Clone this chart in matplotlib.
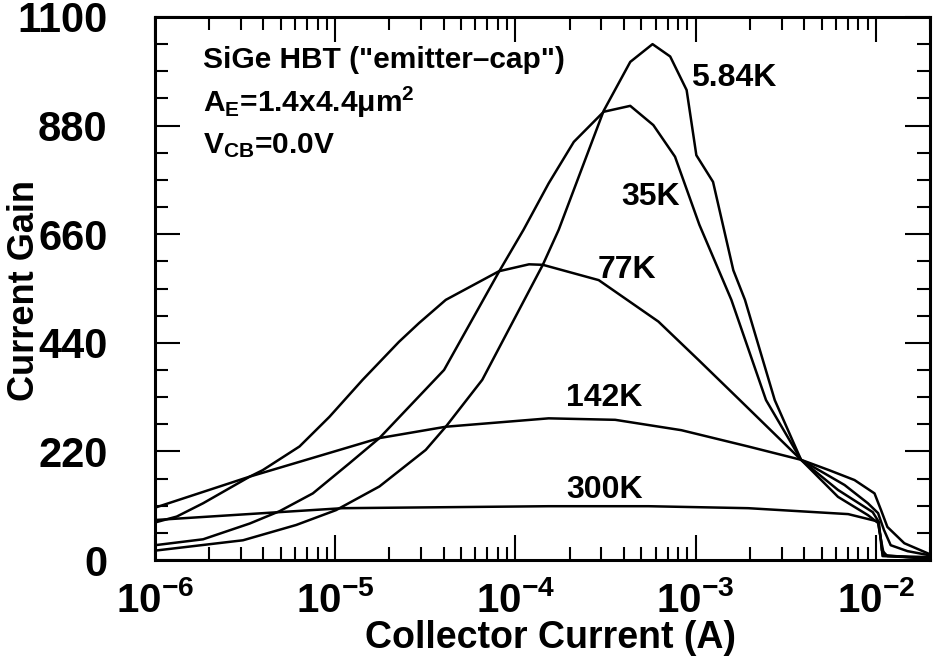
import matplotlib
matplotlib.use("Agg")
from matplotlib import pyplot as plt
from matplotlib.ticker import LogLocator, MultipleLocator, NullFormatter

# collector current (A) and current gain
i_584 = [1.0e-6, 3.08e-6, 6.08e-6, 1.01e-5, 1.76e-5, 3.18e-5, 4.11e-5, 6.55e-5,
         1.42e-4, 1.74e-4, 3.09e-4, 4.34e-4, 5.77e-4, 7.23e-4, 8.92e-4, 1.01e-3,
         1.25e-3, 1.62e-3, 1.88e-3, 2.75e-3, 3.85e-3, 6.17e-3, 9.04e-3, 1.03e-2,
         1.07e-2, 1.09e-2, 1.96e-2]
g_584 = [19, 40, 71, 101, 149, 223, 270, 365,
         598, 669, 910, 1009, 1045, 1020, 952, 820,
         766, 587, 527, 324, 203, 128, 91, 75,
         40, 8, 4]

i_35 = [1.0e-6, 1.85e-6, 3.36e-6, 4.92e-6, 7.52e-6, 1.20e-5, 1.76e-5, 4.02e-5,
        8.11e-5, 1.11e-4, 1.53e-4, 2.11e-4, 3.09e-4, 4.34e-4, 5.83e-4, 7.69e-4,
        1.05e-3, 1.58e-3, 2.46e-3, 3.85e-3, 6.17e-3, 9.62e-3, 1.04e-2, 1.08e-2,
        1.16e-2, 1.96e-2]
g_35 = [30, 42, 74, 99, 135, 196, 247, 385,
        584, 669, 763, 847, 908, 920, 881, 817,
        679, 527, 324, 203, 142, 97, 77, 20,
        8, 6]

i_77 = [1.0e-6, 1.32e-6, 1.85e-6, 3.36e-6, 3.96e-6, 6.34e-6, 9.29e-6, 1.42e-5,
        2.26e-5, 2.92e-5, 4.11e-5, 8.11e-5, 1.19e-4, 1.42e-4, 2.90e-4, 6.22e-4,
        1.04e-3, 1.76e-3, 3.85e-3, 6.71e-3, 9.04e-3, 1.03e-2, 1.11e-2, 1.21e-2,
        1.50e-2, 1.96e-2]
g_77 = [76, 88, 115, 169, 182, 230, 290, 365,
        442, 480, 527, 585, 599, 598, 567, 483,
        405, 324, 203, 152, 115, 95, 61, 30,
        18, 10]

i_142 = [1.0e-6, 3.36e-6, 1.76e-5, 4.11e-5, 1.53e-4, 3.58e-4, 8.34e-4, 1.96e-3,
         3.85e-3, 5.51e-3, 7.62e-3, 9.84e-3, 1.07e-2, 1.16e-2, 1.44e-2, 1.96e-2]
g_142 = [106, 169, 247, 270, 287, 284, 263, 230,
         203, 182, 162, 135, 101, 67, 34, 13]

i_300 = [1.0e-6, 4.43e-6, 1.10e-5, 1.53e-4, 5.48e-4, 1.96e-3, 7.03e-3, 1.03e-2,
         1.07e-2, 1.11e-2, 1.96e-2]
g_300 = [81, 96, 105, 109, 109, 105, 93, 78,
         40, 10, 2]

temps = ["5.84K", "35K", "77K", "142K", "300K"]
label_i = [1.62e-3, 5.62e-4, 4.14e-4, 3.13e-4, 3.13e-4]
label_g = [976, 735, 588, 328, 142]

plt.rcParams["font.family"] = ["Liberation Sans", "DejaVu Sans"]
plt.rcParams["font.weight"] = "bold"
plt.rcParams["mathtext.fontset"] = "custom"
plt.rcParams["mathtext.rm"] = "Liberation Sans:bold"
plt.rcParams["mathtext.it"] = "Liberation Sans:bold"
plt.rcParams["mathtext.bf"] = "Liberation Sans:bold"

fig = plt.figure(figsize=(9.33, 6.69), dpi=100)
ax = fig.add_axes([0.1661, 0.1629, 0.8307, 0.8117])

for xs, ys in [(i_584, g_584), (i_35, g_35), (i_77, g_77), (i_142, g_142), (i_300, g_300)]:
    ax.plot(xs, ys, c="black", lw=1.8)

for t, x, y in zip(temps, label_i, label_g):
    ax.text(x, y, t, ha="center", va="center", fontsize=23, fontweight="bold")

ax.text(0.062, 0.921, 'SiGe HBT ("emitter\u2013cap")', transform=ax.transAxes,
        fontsize=21.5, fontweight="bold", va="center")
ax.text(0.062, 0.842, "A$_\\mathregular{E}$=1.4x4.4\u03bcm$^\\mathregular{2}$",
        transform=ax.transAxes, fontsize=21.5, fontweight="bold", va="center")
ax.text(0.062, 0.764, "V$_\\mathregular{CB}$=0.0V", transform=ax.transAxes,
        fontsize=21.5, fontweight="bold", va="center")

ax.set_xscale("log")
ax.set_xlim(1e-6, 2e-2)
ax.set_ylim(0, 1100)
ax.yaxis.set_major_locator(MultipleLocator(220))
ax.yaxis.set_minor_locator(MultipleLocator(55))
ax.xaxis.set_minor_locator(LogLocator(base=10, subs=range(2, 10), numticks=20))
ax.xaxis.set_minor_formatter(NullFormatter())
ax.set_xticks([1e-6, 1e-5, 1e-4, 1e-3, 1e-2])
ax.set_xticklabels([r"$\mathregular{10^{-6}}$", r"$\mathregular{10^{-5}}$",
                    r"$\mathregular{10^{-4}}$", r"$\mathregular{10^{-3}}$",
                    r"$\mathregular{10^{-2}}$"])

ax.tick_params(which="both", direction="in", top=True, right=True, width=1.5)
ax.tick_params(which="major", length=18)
ax.tick_params(which="minor", length=9.5)
ax.tick_params(axis="y", which="major", labelsize=30, pad=34)
ax.tick_params(axis="x", which="major", labelsize=29, pad=15)
for lab in ax.get_xticklabels() + ax.get_yticklabels():
    lab.set_fontweight("bold")
for s in ax.spines.values():
    s.set_linewidth(2.2)

ax.set_xlabel("Collector Current (A)", fontsize=27, fontweight="bold")
ax.set_ylabel("Current Gain", fontsize=26, fontweight="bold")
ax.xaxis.set_label_coords(0.51, -0.11)
ax.yaxis.set_label_coords(-0.146, 0.497)

fig.savefig("out.png", dpi=100)
